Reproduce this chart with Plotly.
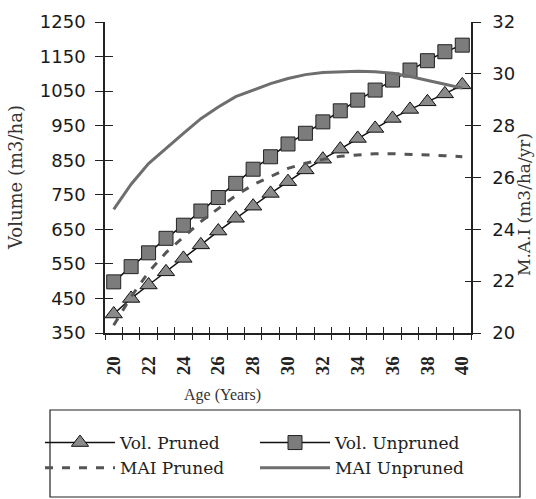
import plotly.graph_objects as go

# ---- data ----
ages = list(range(20, 41))
vol_pruned = [405, 450, 489, 527, 566, 605, 645, 682, 717, 754, 788,
              822, 853, 882, 913, 942, 971, 997, 1019, 1042, 1068]
vol_unpruned = [498, 542, 582, 624, 662, 703, 742, 783, 824, 860, 897,
                928, 961, 993, 1024, 1053, 1082, 1111, 1138, 1164, 1183]
mai_pruned = [20.3, 21.4, 22.35, 23.1, 23.7, 24.3, 24.8, 25.3, 25.72, 26.05, 26.35,
              26.55, 26.7, 26.82, 26.88, 26.92, 26.92, 26.9, 26.87, 26.84, 26.8]
mai_unpruned = [24.77, 25.74, 26.54, 27.13, 27.7, 28.27, 28.72, 29.12, 29.38, 29.62, 29.82,
                29.97, 30.05, 30.08, 30.1, 30.08, 30.02, 29.9, 29.76, 29.6, 29.45]

x_tick_vals = list(range(20, 41, 2))
x_tick_text = [str(v) for v in x_tick_vals]
x_boundaries = [a - 0.5 for a in ages] + [ages[-1] + 0.5]

W, H = 536, 499
L, R, T, B = 105, 65, 22, 166
PW, PH = W - L - R, H - T - B

def px_x(p):
    return (p - L) / PW

def px_y(p):
    return (H - B - p) / PH

serif = "Liberation Serif"
sans = "DejaVu Sans"
axis_col = "#222222"

fig = go.Figure()

# MAI lines (drawn first, beneath markers)
fig.add_trace(go.Scatter(
    x=ages, y=mai_unpruned, name="MAI Unpruned", yaxis="y2", mode="lines",
    line=dict(color="#6e6e6e", width=3), legendrank=4))
fig.add_trace(go.Scatter(
    x=ages, y=mai_pruned, name="MAI Pruned", yaxis="y2", mode="lines",
    line=dict(color="#555555", width=3, dash="8px,9px"), legendrank=3))
# Volume lines
fig.add_trace(go.Scatter(
    x=ages, y=vol_unpruned, name="Vol. Unpruned", mode="lines+markers",
    line=dict(color="#111111", width=1.5),
    marker=dict(symbol="square", size=14, color="#7c7c7c",
                line=dict(color="#222222", width=1)), legendrank=2))
fig.add_trace(go.Scatter(
    x=ages, y=vol_pruned, name="Vol. Pruned", mode="lines+markers",
    line=dict(color="#111111", width=1.5),
    marker=dict(symbol="triangle-up", size=15, color="#8a8a8a",
                line=dict(color="#111111", width=1)), legendrank=1))

# empty helper traces so the inner-tick overlay axes are drawn
fig.add_trace(go.Scatter(x=[], y=[], xaxis="x3", yaxis="y3", showlegend=False, hoverinfo="skip"))
fig.add_trace(go.Scatter(x=[], y=[], xaxis="x3", yaxis="y4", showlegend=False, hoverinfo="skip"))

xrange = [19.5, 40.5]
fig.update_layout(
    width=W, height=H,
    margin=dict(l=L, r=R, t=T, b=B),
    paper_bgcolor="white", plot_bgcolor="white",
    showlegend=True,
    xaxis=dict(
        range=xrange, tickvals=x_tick_vals, ticktext=x_tick_text,
        tickangle=-90, ticks="", ticklabelstandoff=14,
        tickfont=dict(family=serif, size=19, color="#222222", weight="bold"),
        showline=True, linecolor=axis_col, linewidth=1.5, showgrid=False, zeroline=False,
        minor=dict(tickvals=x_boundaries, ticks="outside", ticklen=5,
                   tickcolor=axis_col, tickwidth=1.2, showgrid=False),
    ),
    xaxis3=dict(
        range=xrange, overlaying="x", anchor="y3", side="bottom",
        tickvals=x_boundaries, ticks="inside", ticklen=6, tickcolor=axis_col, tickwidth=1.2,
        showticklabels=False, showline=False, showgrid=False, zeroline=False,
    ),
    yaxis=dict(
        range=[350, 1250], tick0=350, dtick=100, ticks="outside", ticklen=8,
        tickcolor=axis_col, tickwidth=1.2, ticklabelstandoff=6,
        tickfont=dict(family=sans, size=18, color="#1a1a1a"),
        showline=True, linecolor=axis_col, linewidth=1.5, showgrid=False, zeroline=False,
    ),
    yaxis3=dict(
        range=[350, 1250], tick0=350, dtick=100, overlaying="y", anchor="x3", side="left",
        ticks="inside", ticklen=8, tickcolor=axis_col, tickwidth=1.2,
        showticklabels=False, showline=False, showgrid=False, zeroline=False,
    ),
    yaxis2=dict(
        range=[20, 32], tick0=20, dtick=2, overlaying="y", side="right", anchor="x",
        ticks="outside", ticklen=8, tickcolor=axis_col, tickwidth=1.2, ticklabelstandoff=8,
        tickfont=dict(family=sans, size=18, color="#1a1a1a"),
        showline=True, linecolor=axis_col, linewidth=1.5, showgrid=False, zeroline=False,
    ),
    yaxis4=dict(
        range=[20, 32], tick0=20, dtick=2, overlaying="y", side="right", anchor="x3",
        ticks="inside", ticklen=6, tickcolor=axis_col, tickwidth=1.2,
        showticklabels=False, showline=False, showgrid=False, zeroline=False,
    ),
    legend=dict(
        orientation="h", x=px_x(40), xanchor="left", y=px_y(425), yanchor="top",
        font=dict(family="DejaVu Serif", size=17, color="#222222"),
        itemwidth=70, entrywidth=130, bgcolor="rgba(0,0,0,0)", borderwidth=0,
        tracegroupgap=0,
    ),
    shapes=[dict(type="rect", xref="paper", yref="paper",
                 x0=px_x(50), x1=px_x(520), y0=px_y(497), y1=px_y(410),
                 line=dict(color="#222222", width=1.2))],
    annotations=[
        dict(text="Volume (m3/ha)", xref="paper", yref="paper", x=px_x(15), y=px_y(178),
             xanchor="center", yanchor="middle", textangle=-90, showarrow=False,
             font=dict(family="DejaVu Serif", size=18, color="#333333")),
        dict(text="M.A.I (m3/ha/yr)", xref="paper", yref="paper", x=px_x(524), y=px_y(205),
             xanchor="center", yanchor="middle", textangle=-90, showarrow=False,
             font=dict(family="DejaVu Serif", size=17, color="#333333")),
        dict(text="Age (Years)", xref="paper", yref="paper", x=px_x(222), y=px_y(395),
             xanchor="center", yanchor="middle", showarrow=False,
             font=dict(family=serif, size=16, color="#333333")),
    ],
)

fig.write_html("out.html")
